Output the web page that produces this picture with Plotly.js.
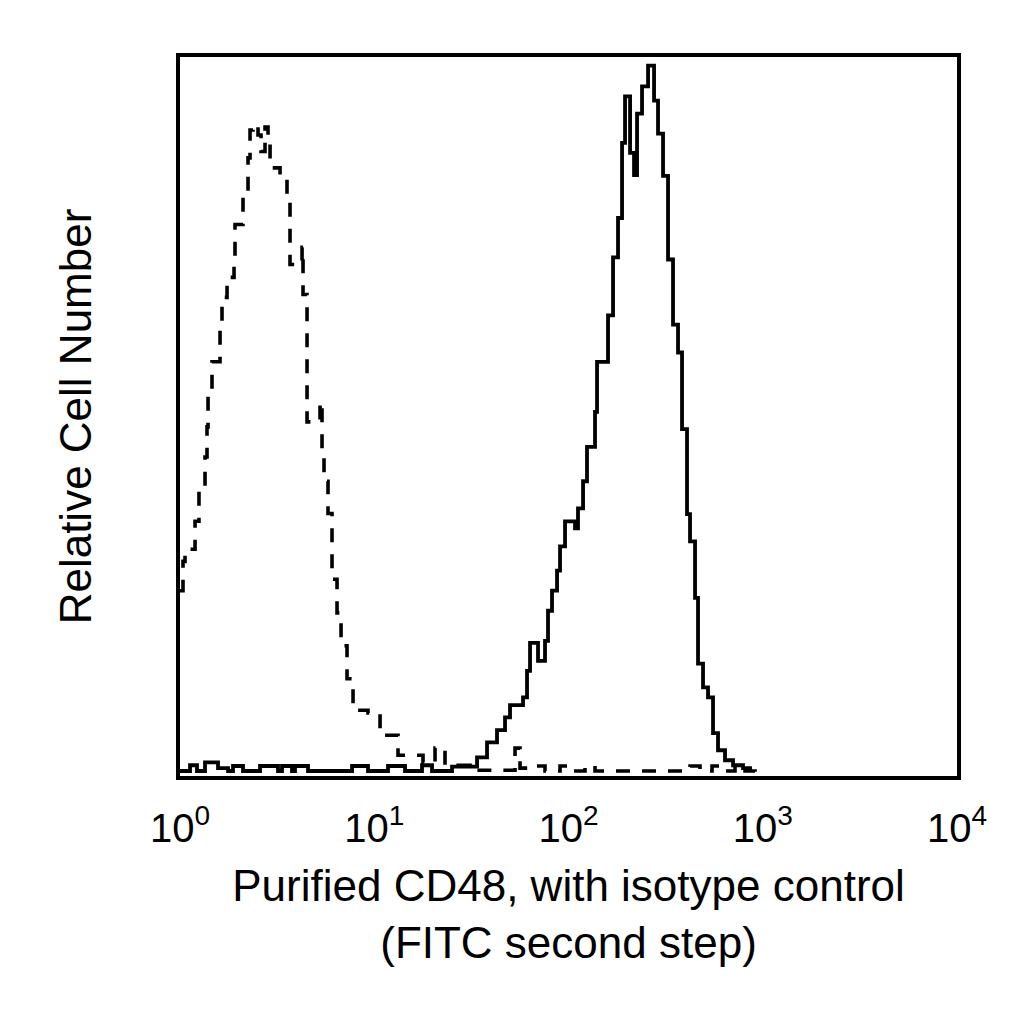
<!DOCTYPE html>
<html>
<head>
<meta charset="utf-8">
<script src="https://cdn.plot.ly/plotly-3.0.1.min.js"></script>
<style>
  html, body { margin: 0; padding: 0; background: #fff; }
  #chart { width: 1024px; height: 1024px; }
</style>
</head>
<body>
<div id="chart"></div>
<script>
// fluorescence channel (linear value, log axis) and relative counts (0-100)
var isoX = [1.000, 1.036, 1.061, 1.195, 1.252, 1.345, 1.377, 1.394, 1.461, 1.607,
    1.645, 1.746, 1.897, 1.919, 2.110, 2.239, 2.293, 2.376, 2.521, 2.612,
    2.739, 2.838, 2.907, 3.273, 3.554, 3.683, 4.248, 4.298, 4.507, 5.257,
    5.383, 5.512, 5.779, 6.060, 6.431, 6.744, 7.240, 7.775, 9.287, 10.71,
    13.25, 17.82, 20.55, 23.13, 31.12, 53.04, 56.28, 67.22, 75.68, 90.42,
    101.8, 121.6, 136.9, 422.2, 475.3, 548.0, 617.0, 719.5, 810.3, 912.5];
var isoY = [25.9, 30.0, 31.7, 35.6, 40.1, 44.6, 48.8, 53.4, 57.9, 62.3,
    66.9, 69.7, 72.5, 77.1, 81.5, 86.4, 90.3, 91.0, 89.6, 87.3,
    90.7, 89.2, 85.0, 84.0, 80.4, 71.5, 73.9, 67.3, 49.5, 52.3,
    45.8, 41.2, 36.7, 27.5, 22.8, 18.2, 13.6, 9.2, 8.8, 5.7,
    2.9, 1.9, 3.9, 1.5, 0.8, 3.9, 1.1, 1.4, 0.7, 1.4,
    0.7, 1.4, 0.7, 1.4, 0.7, 1.4, 0.7, 1.4, 0.7, 0.6];

var cd48X = [1.000, 1.126, 1.223, 1.345, 1.569, 1.767, 1.874, 2.110, 2.582, 3.195,
    3.350, 3.772, 3.908, 4.560, 7.683, 9.287, 11.77, 14.40, 17.61, 19.83,
    25.14, 33.81, 38.06, 42.84, 47.11, 49.98, 58.32, 61.15, 63.37, 69.66,
    75.68, 78.42, 82.23, 87.27, 90.42, 95.94, 108.0, 111.9, 118.8, 124.5,
    136.9, 140.2, 159.7, 169.5, 179.8, 188.6, 195.4, 207.4, 217.4, 225.3,
    239.0, 256.7, 275.6, 288.9, 306.6, 325.3, 345.1, 366.2, 384.0, 407.4,
    422.2, 448.0, 464.2, 492.5, 522.5, 554.5, 588.3, 639.1, 703.0, 791.3,
    860.0];
var cd48Y = [0.7, 1.5, 0.7, 1.9, 1.1, 0.7, 1.4, 0.7, 1.4, 0.7,
    1.4, 0.7, 1.4, 0.7, 1.4, 0.7, 1.4, 0.7, 1.5, 0.7,
    1.3, 2.6, 4.7, 6.4, 8.2, 9.9, 11.0, 14.7, 18.6, 16.1,
    18.9, 23.1, 25.9, 28.7, 32.1, 35.6, 34.6, 37.4, 41.2, 46.0,
    50.9, 57.9, 64.4, 72.5, 78.0, 88.5, 95.0, 87.1, 84.0, 92.6,
    96.4, 99.3, 94.4, 89.8, 83.9, 72.2, 63.1, 59.2, 48.5, 36.6,
    32.8, 24.9, 15.7, 12.4, 11.0, 6.0, 3.6, 2.2, 1.5, 1.1,
    0.7];

var tickVals = [1, 10, 100, 1000, 10000];
var tickText = ["10<sup>0</sup>", "10<sup>1</sup>", "10<sup>2</sup>", "10<sup>3</sup>", "10<sup>4</sup>"];

var fontFam = "Liberation Sans, Arial, Helvetica, sans-serif";

var isotype = {
    x: isoX,
    y: isoY,
    type: "scatter",
    mode: "lines",
    name: "Isotype control",
    line: { color: "black", width: 3.6, shape: "hv", dash: "14px,12px" },
    hoverinfo: "skip"
};

var cd48 = {
    x: cd48X,
    y: cd48Y,
    type: "scatter",
    mode: "lines",
    name: "Purified CD48",
    line: { color: "black", width: 3.8, shape: "hv" },
    hoverinfo: "skip"
};

var layout = {
    width: 1024,
    height: 1024,
    margin: { l: 0, r: 0, t: 0, b: 0 },
    paper_bgcolor: "white",
    plot_bgcolor: "white",
    showlegend: false,
    font: { family: fontFam, color: "black" },
    xaxis: {
        type: "log",
        range: [0, 4],
        domain: [0.1758, 0.9346],
        tickvals: tickVals,
        ticktext: tickText,
        ticks: "",
        ticklabelstandoff: 14,
        tickfont: { family: fontFam, size: 40, color: "black" },
        showgrid: false,
        zeroline: false,
        showline: true,
        mirror: true,
        linecolor: "black",
        linewidth: 3.8,
        title: {
            text: "Purified CD48, with isotype control<br>(FITC second step)",
            font: { family: fontFam, size: 44, color: "black" },
            standoff: 22
        }
    },
    yaxis: {
        range: [0, 100.5],
        domain: [0.2422, 0.9443],
        showticklabels: false,
        ticks: "",
        showgrid: false,
        zeroline: false,
        showline: true,
        mirror: true,
        linecolor: "black",
        linewidth: 3.8,
        title: {
            text: "Relative Cell Number",
            font: { family: fontFam, size: 44, color: "black" },
            standoff: 72
        }
    }
};

Plotly.newPlot("chart", [isotype, cd48], layout, { staticPlot: true, displayModeBar: false });
</script>
</body>
</html>
